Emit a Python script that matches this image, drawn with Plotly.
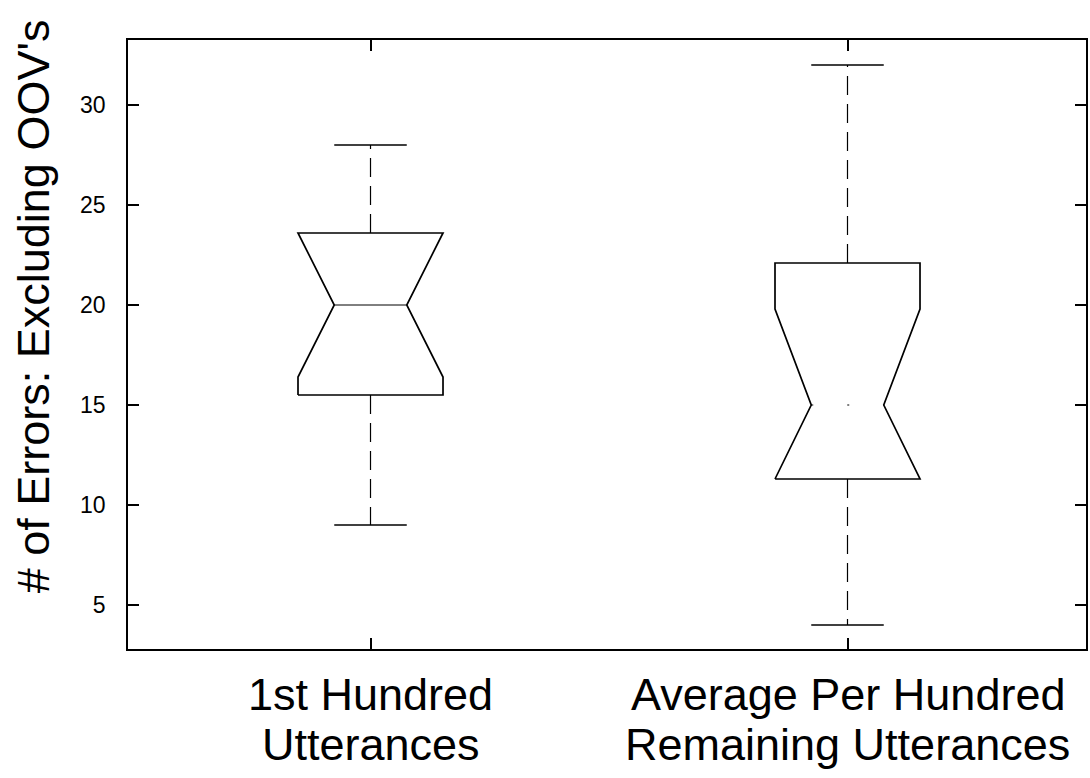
import plotly.graph_objects as go

# Summary statistics for each group (number of recognition errors)
label_line1 = ["1st Hundred", "Average Per Hundred"]
label_line2 = ["Utterances", "Remaining Utterances"]
positions = [1, 2]
lower_whisker = [9, 4]
q1 = [15.5, 11.3]
median = [20, 15]
q3 = [23.6, 22.1]
upper_whisker = [28, 32]
notch_low = [16.4, 11.3]
notch_high = [23.6, 19.8]
y_ticks = [5, 10, 15, 20, 25, 30]

BOX_HALF = 0.152      # half box width, in x-axis units
NOTCH_FRAC = 0.5      # pinch width relative to the box width
CAP_HALF = 0.076      # half width of whisker caps
FONT = "Liberation Sans, Arial, sans-serif"

fig = go.Figure()
line_style = dict(color="black", width=1.7)

for i, c in enumerate(positions):
    w = BOX_HALF
    nw = BOX_HALF * NOTCH_FRAC
    # notched box outline
    xs = [c - w, c - w, c - nw, c - w, c - w, c + w, c + w, c + nw, c + w, c + w, c - w]
    ys = [q1[i], notch_low[i], median[i], notch_high[i], q3[i],
          q3[i], notch_high[i], median[i], notch_low[i], q1[i], q1[i]]
    fig.add_trace(go.Scatter(x=xs, y=ys, mode="lines", line=line_style,
                             hoverinfo="skip", showlegend=False))
    # median line
    med_line = dict(color="black", width=1) if i == 0 else dict(color="black", width=1, dash="2px,34px")
    fig.add_trace(go.Scatter(x=[c - nw, c + nw], y=[median[i], median[i]], mode="lines",
                             line=med_line, hoverinfo="skip", showlegend=False))
    # dashed whiskers
    for a, b in ((q3[i], upper_whisker[i]), (q1[i], lower_whisker[i])):
        fig.add_trace(go.Scatter(x=[c, c], y=[a, b], mode="lines",
                                 line=dict(color="black", width=1.2, dash="19px,9px"),
                                 hoverinfo="skip", showlegend=False))
    # whisker caps
    for v in (upper_whisker[i], lower_whisker[i]):
        fig.add_trace(go.Scatter(x=[c - CAP_HALF, c + CAP_HALF], y=[v, v], mode="lines",
                                 line=line_style, hoverinfo="skip", showlegend=False))

    # two-line category label under each box
    for text, yp in ((label_line1[i], -0.0755), (label_line2[i], -0.1576)):
        fig.add_annotation(
            text=text, x=c, xref="x", y=yp, yref="paper",
            xanchor="center", yanchor="middle", showarrow=False,
            font=dict(family=FONT, size=45, color="black"),
        )

axis_common = dict(
    showline=True, linecolor="black", linewidth=1.5, mirror="ticks",
    ticks="inside", ticklen=11, tickwidth=1.5, tickcolor="black",
    showgrid=False, zeroline=False,
)

fig.update_xaxes(
    range=[0.4916, 2.5], tickmode="array", tickvals=positions,
    ticktext=["" for _ in positions], **axis_common,
)
fig.update_yaxes(
    range=[2.8, 33.25], tickmode="array", tickvals=y_ticks,
    ticktext=[str(t) for t in y_ticks],
    tickfont=dict(family=FONT, size=23, color="black"),
    ticklabelstandoff=16, **axis_common,
)

fig.add_annotation(
    text="# of Errors: Excluding OOV's", textangle=-90,
    xref="paper", yref="paper", x=-0.099, y=0.563,
    xanchor="center", yanchor="middle", showarrow=False,
    font=dict(family=FONT, size=45, color="black"),
)

fig.update_layout(
    width=1090, height=778,
    margin=dict(l=128, r=2, t=40, b=129),
    paper_bgcolor="white", plot_bgcolor="white",
    showlegend=False,
)

fig.write_html("out.html")
